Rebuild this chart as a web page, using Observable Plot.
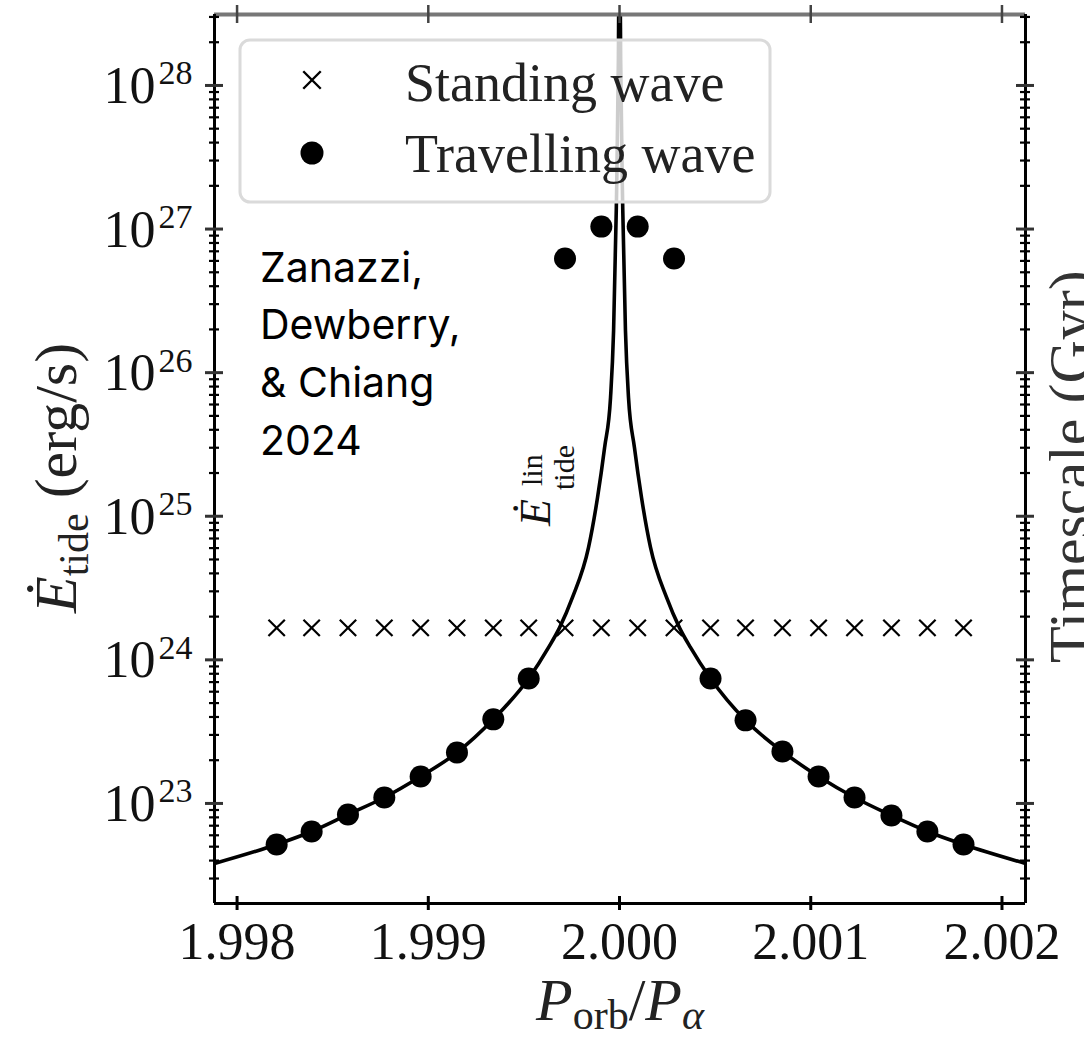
<!DOCTYPE html>
<html><head><meta charset="utf-8">
<script src="https://cdn.jsdelivr.net/npm/d3@7"></script>
<script src="https://cdn.jsdelivr.net/npm/@observablehq/plot@0.6"></script>
<style>
html,body{margin:0;padding:0;background:#fff;overflow:hidden;}
#chart svg{display:block;overflow:hidden;}
</style></head><body><div id="chart"></div>
<script>
// ---- data ----
const periodRatio = [1.998207, 1.998390, 1.998580, 1.998770, 1.998960, 1.999150, 1.999340, 1.999525, 1.999715, 1.999905,
                     2.000095, 2.000285, 2.000476, 2.000659, 2.000852, 2.001041, 2.001229, 2.001422, 2.001610, 2.001799];
const standingE = [1.67e24, 1.67e24, 1.67e24, 1.67e24, 1.67e24, 1.67e24, 1.67e24, 1.67e24, 1.67e24, 1.67e24,
                   1.67e24, 1.67e24, 1.67e24, 1.67e24, 1.67e24, 1.67e24, 1.67e24, 1.67e24, 1.67e24, 1.67e24];
const travellingE = [5.18e22, 6.38e22, 8.38e22, 1.10e23, 1.54e23, 2.26e23, 3.85e23, 7.41e23, 6.24e26, 1.04e27,
                     1.04e27, 6.24e26, 7.41e23, 3.79e23, 2.30e23, 1.54e23, 1.10e23, 8.25e22, 6.38e22, 5.18e22];
const curveX = [1.997882, 1.998207, 1.998390, 1.998580, 1.998770, 1.998960, 1.999150, 1.999340, 1.999525, 1.999629,
                1.999686, 1.999754, 1.999838, 1.999885, 1.999922, 1.999953, 1.999969, 1.999983, 1.999994, 1.999997,
                2.000003, 2.000006, 2.000017, 2.000031, 2.000047, 2.000078, 2.000115, 2.000162, 2.000246, 2.000314,
                2.000371, 2.000476, 2.000659, 2.000852, 2.001041, 2.001229, 2.001422, 2.001610, 2.001799, 2.002123];
const curveE = [3.82e22, 5.18e22, 6.38e22, 8.38e22, 1.10e23, 1.54e23, 2.26e23, 3.85e23, 7.41e23, 1.22e24,
                1.67e24, 2.72e24, 6.07e24, 1.35e25, 3.01e25, 6.71e25, 1.97e26, 1.35e27, 1.5e28, 5e28,
                5e28, 1.5e28, 1.35e27, 1.97e26, 6.71e25, 3.01e25, 1.35e25, 6.07e24, 2.72e24, 1.67e24,
                1.22e24, 7.41e23, 3.79e23, 2.30e23, 1.54e23, 1.10e23, 8.25e22, 6.38e22, 5.18e22, 3.82e22];
const xTicks = [1.998, 1.999, 2.000, 2.001, 2.002];
const xTickLabels = ["1.998", "1.999", "2.000", "2.001", "2.002"];
const yMajor = [1e23, 1e24, 1e25, 1e26, 1e27, 1e28];
const yExponents = ["23", "24", "25", "26", "27", "28"];
const legendLabels = ["Standing wave", "Travelling wave"];
const annotationLines = ["Zanazzi,", "Dewberry,", "& Chiang", "2024"];

// ---- tables ----
const standing = periodRatio.map((x, i) => ({x, e: standingE[i]}));
const travelling = periodRatio.map((x, i) => ({x, e: travellingE[i]}));
const curve = curveX.map((x, i) => ({x, e: curveE[i]}));
const yMinor = [];
for (let k = 22; k <= 28; k++) for (let m = 2; m <= 9; m++) yMinor.push(m * Math.pow(10, k));

const W = 1084, H = 1044, mL = 214, mR = 59, mT = 14, mB = 141;
const xDomain = [1.997882, 2.002123], yDomain = [2.01e22, 3.12e28];
const [xmin, xmax] = xDomain, [ymin, ymax] = yDomain;
const yMinorIn = yMinor.filter(v => v > ymin && v < ymax);
const serif = "'Liberation Serif', 'Times New Roman', serif";

const tickMarks = (side) => [
  Plot.ruleY(yMinorIn, {y: d => d, x1: () => side, x2: () => side, insetLeft: -5, insetRight: -5, stroke: "black", strokeWidth: 2.2}),
  Plot.ruleY(yMajor, {y: d => d, x1: () => side, x2: () => side, insetLeft: -9, insetRight: -9, stroke: "#333", strokeWidth: 3})
];

const plot = Plot.plot({
  width: W, height: H, marginLeft: mL, marginRight: mR, marginTop: mT, marginBottom: mB,
  style: {fontFamily: serif, background: "white", color: "black"},
  x: {domain: xDomain, axis: null},
  y: {type: "log", domain: yDomain, axis: null},
  marks: [
    Plot.line(curve, {x: "x", y: "e", stroke: "black", strokeWidth: 3.6, curve: "monotone-x", clip: true}),
    Plot.dot(standing, {x: "x", y: "e", symbol: "times", r: 7.5, stroke: "black", strokeWidth: 2.2}),
    Plot.dot(travelling, {x: "x", y: "e", r: 11, fill: "black"}),
    // frame
    Plot.ruleY([ymax], {y: d => d, stroke: "#777", strokeWidth: 4}),
    Plot.ruleY([ymin], {y: d => d, stroke: "black", strokeWidth: 3}),
    Plot.ruleX([xmin, xmax], {x: d => d, stroke: "black", strokeWidth: 3}),
    ...tickMarks(xmin),
    ...tickMarks(xmax),
    Plot.ruleX(xTicks, {x: d => d, y1: () => ymin, y2: () => ymin, insetTop: -7, insetBottom: -7, stroke: "black", strokeWidth: 3}),
    Plot.ruleX(xTicks, {x: d => d, y1: () => ymax, y2: () => ymax, insetTop: -9, insetBottom: -9, stroke: "#444", strokeWidth: 2.5}),
    // tick labels
    Plot.text(yMajor, {x: () => xmin, y: d => d, text: () => "10", textAnchor: "end", dx: -59, dy: 1, fontSize: 52, fontFamily: serif, fill: "#111"}),
    Plot.text(yMajor, {x: () => xmin, y: d => d, text: (d, i) => yExponents[i], textAnchor: "end", dx: -22, dy: -12, fontSize: 34, fontFamily: serif, fill: "#111"}),
    Plot.text(xTicks, {x: d => d, y: () => ymin, text: (d, i) => xTickLabels[i], dy: 39, fontSize: 52, fontFamily: serif, fill: "#111"})
  ]
});
document.getElementById("chart").appendChild(plot);

const svg = d3.select(plot);
const addText = (attrs) => {
  const t = svg.append("text").attr("text-anchor", "start");
  for (const k in attrs) t.attr(k, attrs[k]);
  return t;
};

// annotation label of the curve
const ann = addText({transform: "translate(550,526) rotate(-90)", "font-family": serif, fill: "#111"});
ann.append("tspan").attr("font-style", "italic").attr("font-size", 44).text("Ė");
ann.append("tspan").attr("x", 40).attr("dy", -8).attr("font-size", 30).text("lin");
ann.append("tspan").attr("x", 36).attr("dy", 32).attr("font-size", 30).text("tide");

// legend (semi-transparent, drawn over the curve)
svg.append("rect").attr("x", 240).attr("y", 40).attr("width", 530).attr("height", 162).attr("rx", 10)
  .attr("fill", "white").attr("fill-opacity", 0.8).attr("stroke", "#dadada").attr("stroke-width", 3);
svg.append("path").attr("d", d3.symbol(d3.symbolTimes, Math.PI * 8 * 8)())
  .attr("transform", "translate(312,80)").attr("fill", "none").attr("stroke", "black").attr("stroke-width", 2.4);
svg.append("circle").attr("cx", 312).attr("cy", 153).attr("r", 11.5).attr("fill", "black");
addText({x: 405, y: 101, "font-family": serif, "font-size": 54, fill: "#222"}).text(legendLabels[0]);
addText({x: 405, y: 172, "font-family": serif, "font-size": 54, fill: "#222"}).text(legendLabels[1]);

// citation text
const baselines = [282, 339, 397, 455];
annotationLines.forEach((t, i) => {
  addText({x: 260, y: baselines[i], "font-family": "Inter, 'Noto Sans', sans-serif", "font-size": 41, fill: "black"}).text(t);
});

// y-axis label
const yl = addText({transform: "translate(76,613) rotate(-90)", "font-family": serif, "font-size": 60, fill: "#222"});
yl.append("tspan").attr("font-style", "italic").text("Ė");
yl.append("tspan").attr("font-size", 42).attr("dy", 12).text("tide");
yl.append("tspan").attr("dy", -12).text(" (erg/s)");

// x-axis label
const xl = svg.append("text").attr("x", 620).attr("y", 1020).attr("text-anchor", "middle")
  .attr("font-family", serif).attr("font-size", 60).attr("fill", "#222");
xl.append("tspan").attr("font-style", "italic").text("P");
xl.append("tspan").attr("font-size", 42).attr("dy", 9).text("orb");
xl.append("tspan").attr("dy", -9).text("/");
xl.append("tspan").attr("font-style", "italic").text("P");
xl.append("tspan").attr("font-style", "italic").attr("font-size", 42).attr("dy", 9).text("α");

// right-axis label (cut off by the edge, as in the reference)
addText({transform: "translate(1090,663) rotate(-90)", "font-family": serif, "font-size": 60, fill: "#333"}).text("Timescale (Gyr)");
</script></body></html>
